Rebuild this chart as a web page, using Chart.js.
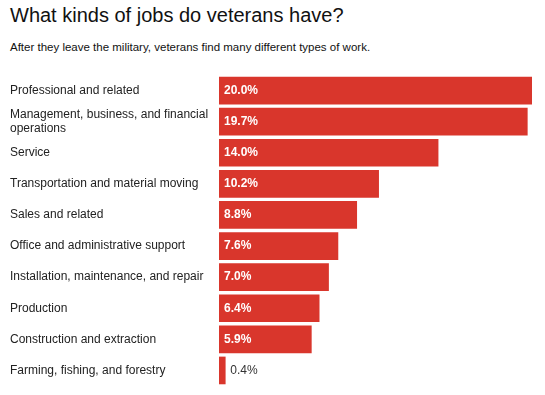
<!DOCTYPE html>
<html>
<head>
<meta charset="utf-8">
<script src="https://cdn.jsdelivr.net/npm/chart.js@4"></script>
<style>
    html, body { margin: 0; padding: 0; background: #fff; }
    body { width: 545px; height: 395px; position: relative; overflow: hidden; font-family: "Liberation Sans", Arial, sans-serif; }
    #title { position: absolute; left: 10px; top: 4px; font-size: 20px; color: #111; }
    #subtitle { position: absolute; left: 10px; top: 41px; font-size: 11.5px; color: #111; }
    #chart-wrap { position: absolute; left: 0; top: 0; width: 545px; height: 395px; }
</style>
</head>
<body>
<div id="title">What kinds of jobs do veterans have?</div>
<div id="subtitle">After they leave the military, veterans find many different types of work.</div>
<div id="chart-wrap"><canvas id="jobs-chart" width="545" height="395"></canvas></div>
<script>
    // 직업 분류
    var categories = [
        'Professional and related',
        ['Management, business, and financial', 'operations'],
        'Service',
        'Transportation and material moving',
        'Sales and related',
        'Office and administrative support',
        'Installation, maintenance, and repair',
        'Production',
        'Construction and extraction',
        'Farming, fishing, and forestry'
    ];

    // 비율 (%)
    var shares = [20.0, 19.7, 14.0, 10.2, 8.8, 7.6, 7.0, 6.4, 5.9, 0.4];

    var barColor = '#d9362c';

    // 막대 안쪽(또는 바깥) 값 라벨
    var valueLabels = {
        id: 'valueLabels',
        afterDatasetsDraw: function(chart) {
            var ctx = chart.ctx;
            var meta = chart.getDatasetMeta(0);
            ctx.save();
            ctx.textBaseline = 'middle';
            ctx.textAlign = 'left';
            meta.data.forEach(function(bar, i) {
                var text = shares[i].toFixed(1) + '%';
                var width = bar.x - bar.base;
                if (width > 40) {
                    ctx.font = 'bold 12px "Liberation Sans", Arial, sans-serif';
                    ctx.fillStyle = '#fff';
                    ctx.fillText(text, bar.base + 5, bar.y);
                } else {
                    ctx.font = '12px "Liberation Sans", Arial, sans-serif';
                    ctx.fillStyle = '#333';
                    ctx.fillText(text, bar.x + 5, bar.y);
                }
            });
            ctx.restore();
        }
    };

    new Chart(document.getElementById('jobs-chart'), {
        type: 'bar',
        data: {
            labels: categories,
            datasets: [{
                data: shares,
                backgroundColor: barColor,
                borderWidth: 0,
                barThickness: 27
            }]
        },
        options: {
            indexAxis: 'y',
            responsive: false,
            animation: false,
            layout: {
                padding: { left: 10, right: 13, top: 75, bottom: 9 }
            },
            plugins: {
                legend: { display: false },
                tooltip: { enabled: false }
            },
            scales: {
                x: {
                    display: false,
                    min: 0,
                    max: 20
                },
                y: {
                    border: { display: false },
                    grid: { display: false, drawTicks: false },
                    afterFit: function(scale) {
                        scale.width = 209;
                    },
                    ticks: {
                        autoSkip: false,
                        crossAlign: 'far',
                        padding: 0,
                        color: '#222',
                        font: { family: '"Liberation Sans", Arial, sans-serif', size: 12, lineHeight: 1.1 }
                    }
                }
            }
        },
        plugins: [valueLabels]
    });
</script>
</body>
</html>
